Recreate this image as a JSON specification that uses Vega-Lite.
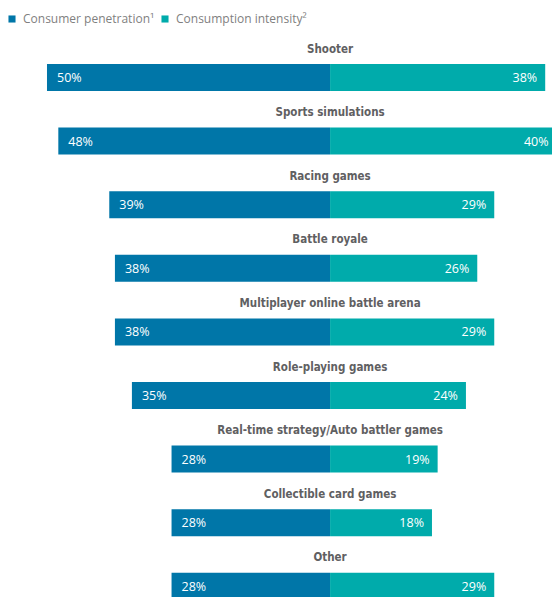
{
  "$schema": "https://vega.github.io/schema/vega-lite/v6.json",
  "autosize": {"type": "none"},
  "padding": 0,
  "width": 552,
  "height": 597,
  "background": "white",
  "config": {"view": {"stroke": null}},
  "data": {"values": [
    {"category": "Shooter", "series": "Consumer penetration¹", "value": 50},
    {"category": "Shooter", "series": "Consumption intensity²", "value": 38},
    {"category": "Sports simulations", "series": "Consumer penetration¹", "value": 48},
    {"category": "Sports simulations", "series": "Consumption intensity²", "value": 40},
    {"category": "Racing games", "series": "Consumer penetration¹", "value": 39},
    {"category": "Racing games", "series": "Consumption intensity²", "value": 29},
    {"category": "Battle royale", "series": "Consumer penetration¹", "value": 38},
    {"category": "Battle royale", "series": "Consumption intensity²", "value": 26},
    {"category": "Multiplayer online battle arena", "series": "Consumer penetration¹", "value": 38},
    {"category": "Multiplayer online battle arena", "series": "Consumption intensity²", "value": 29},
    {"category": "Role-playing games", "series": "Consumer penetration¹", "value": 35},
    {"category": "Role-playing games", "series": "Consumption intensity²", "value": 24},
    {"category": "Real-time strategy/Auto battler games", "series": "Consumer penetration¹", "value": 28},
    {"category": "Real-time strategy/Auto battler games", "series": "Consumption intensity²", "value": 19},
    {"category": "Collectible card games", "series": "Consumer penetration¹", "value": 28},
    {"category": "Collectible card games", "series": "Consumption intensity²", "value": 18},
    {"category": "Other", "series": "Consumer penetration¹", "value": 28},
    {"category": "Other", "series": "Consumption intensity²", "value": 29}
  ]},
  "transform": [
    {"calculate": "datum.series === 'Consumer penetration¹' ? -datum.value : datum.value", "as": "signed"},
    {"calculate": "datum.value + '%'", "as": "label"}
  ],
  "encoding": {
    "y": {"field": "category", "type": "nominal", "sort": null,
      "scale": {"range": [31.2, 603.6], "paddingInner": 0, "paddingOuter": 0},
      "axis": null}
  },
  "layer": [
    {
      "mark": {"type": "bar", "size": 27, "yOffset": 14.5},
      "encoding": {
        "x": {"field": "signed", "type": "quantitative", "stack": "zero", "scale": {"domain": [-58.3, 39.2], "nice": false, "zero": false}, "axis": null},
        "color": {"field": "series", "type": "nominal",
          "scale": {"domain": ["Consumer penetration¹", "Consumption intensity²"], "range": ["#0076A8", "#00ABAB"]},
          "legend": {"orient": "none", "legendX": 6, "legendY": 13, "direction": "horizontal", "title": null,
            "symbolType": "square", "symbolSize": 50, "symbolStrokeWidth": 0, "labelFont": "Open Sans", "labelFontSize": 12, "labelColor": "#7f7f7f", "columnPadding": 4, "labelOffset": 5}}
      }
    },
    {
      "transform": [{"filter": "datum.signed < 0"}],
      "mark": {"type": "text", "yOffset": 15, "dx": 10, "align": "left", "baseline": "middle", "font": "Open Sans", "fontSize": 12.5, "color": "white"},
      "encoding": {
        "x": {"field": "signed", "type": "quantitative"},
        "text": {"field": "label", "type": "nominal"}
      }
    },
    {
      "transform": [{"filter": "datum.signed >= 0"}],
      "mark": {"type": "text", "yOffset": 15, "dx": -8, "align": "right", "baseline": "middle", "font": "Open Sans", "fontSize": 12.5, "color": "white"},
      "encoding": {
        "x": {"field": "signed", "type": "quantitative"},
        "text": {"field": "label", "type": "nominal"}
      }
    },
    {
      "transform": [{"filter": "datum.signed >= 0"}],
      "mark": {"type": "text", "yOffset": -13.5, "align": "center", "baseline": "middle", "font": "DejaVu Sans Condensed, Roboto", "fontWeight": "bold", "fontSize": 11.5, "color": "#5f6062"},
      "encoding": {
        "x": {"datum": 0, "type": "quantitative"},
        "text": {"field": "category", "type": "nominal"}
      }
    }
  ]
}
